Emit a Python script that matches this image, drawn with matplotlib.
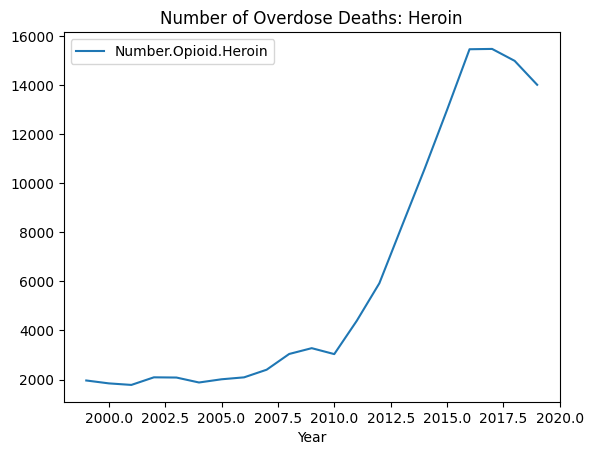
import numpy as np
import matplotlib
matplotlib.use('Agg')
import matplotlib.pyplot as plt

# heroin overdose deaths per year
years = [1999, 2000, 2001, 2002, 2003, 2004, 2005, 2006, 2007, 2008, 2009,
         2010, 2011, 2012, 2013, 2014, 2015, 2016, 2017, 2018, 2019]
heroin = [1960, 1842, 1779, 2089, 2080, 1878, 2009, 2088, 2399, 3041, 3278,
          3036, 4397, 5925, 8257, 10574, 12989, 15469, 15482, 14996, 14019]

fig, ax = plt.subplots(figsize=(6.4, 4.8))
ax.plot(years, heroin, label='Number.Opioid.Heroin')
ax.set_title('Number of Overdose Deaths: Heroin')
ax.set_xlabel('Year')
ax.legend(loc='upper left')

plt.savefig('out.png', bbox_inches='tight')
